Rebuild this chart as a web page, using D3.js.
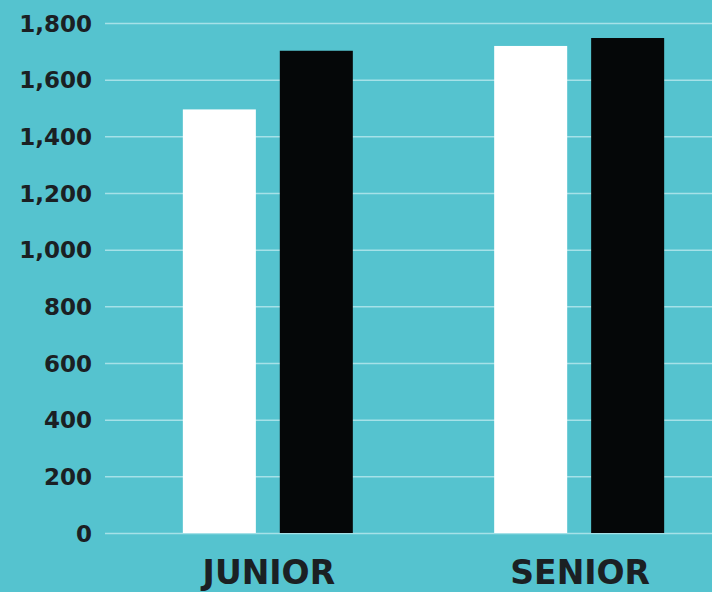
<!DOCTYPE html>
<html>
<head>
<meta charset="utf-8">
<script src="https://cdn.jsdelivr.net/npm/d3@7"></script>
<style>
  html, body { margin: 0; padding: 0; background: #55c3cf; }
  svg { display: block; }
</style>
</head>
<body>
<svg id="chart" width="712" height="592"></svg>
<script>
const categories = ["JUNIOR", "SENIOR"];
const seriesNames = ["Series 1", "Series 2"];
const series1Values = [1495, 1719];
const series2Values = [1702, 1747];
const yTicks = [0, 200, 400, 600, 800, 1000, 1200, 1400, 1600, 1800];
const seriesColors = ["#ffffff", "#050708"];

const W = 712, H = 592;
const svg = d3.select("#chart");
svg.append("rect").attr("width", W).attr("height", H).attr("fill", "#55c3cf");

const y = d3.scaleLinear().domain([0, 1800]).range([533, 23]);
const x = d3.scaleBand().domain(categories).range([105, 742]).paddingInner(0.454).paddingOuter(0.25);
const xs = d3.scaleBand().domain(seriesNames).range([0, x.bandwidth()]).paddingInner(0.247).paddingOuter(0);

const data = categories.map((c, i) => ({
  cat: c,
  values: [
    { s: seriesNames[0], v: series1Values[i] },
    { s: seriesNames[1], v: series2Values[i] }
  ]
}));

// gridlines
const yAxis = d3.axisLeft(y).tickValues(yTicks).tickSize(-(W - 105)).tickFormat(d3.format(","));
const gy = svg.append("g").attr("transform", "translate(105,0)").call(yAxis);
gy.select(".domain").remove();
gy.selectAll(".tick line").attr("stroke", "#a6e1e8").attr("stroke-width", 1.5);
gy.selectAll(".tick text")
  .attr("x", -13)
  .attr("dy", "0.35em")
  .attr("fill", "#1b2023")
  .attr("font-family", "'DejaVu Sans', Verdana, sans-serif")
  .attr("font-weight", "bold")
  .attr("font-size", 23);

// bars
const groups = svg.append("g").selectAll("g").data(data).join("g")
  .attr("transform", d => `translate(${x(d.cat)},0)`);
groups.selectAll("rect").data(d => d.values).join("rect")
  .attr("x", d => xs(d.s))
  .attr("width", xs.bandwidth())
  .attr("y", d => y(d.v))
  .attr("height", d => y(0) - y(d.v))
  .attr("fill", (d, i) => seriesColors[i]);

// category labels
svg.append("g").selectAll("text").data(categories).join("text")
  .attr("x", d => x(d) + x.bandwidth() / 2 + 1)
  .attr("y", 584)
  .attr("text-anchor", "middle")
  .attr("fill", "#1b2023")
  .attr("font-family", "'DejaVu Sans', Verdana, sans-serif")
  .attr("font-weight", "bold")
  .attr("font-size", 33)
  .text(d => d);
</script>
</body>
</html>
